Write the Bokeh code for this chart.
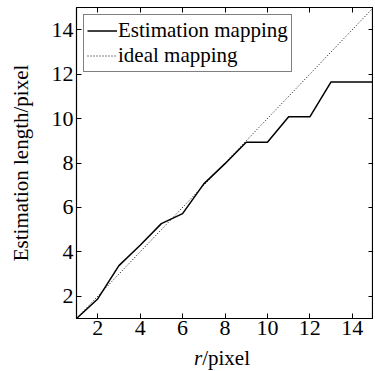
from bokeh.plotting import figure
from bokeh.layouts import column
from bokeh.models import (Range1d, LinearAxis, FixedTicker, Legend, LegendItem, Div,
                          CustomJSTickFormatter)
from bokeh.embed import file_html
from bokeh.resources import INLINE

# data
r_vals = [1, 2, 3, 4, 5, 6, 7, 8, 9, 10, 11, 12, 13, 14, 15]
est_vals = [1.0, 1.88, 3.38, 4.3, 5.27, 5.72, 7.06, 7.97, 8.93, 8.93, 10.08, 10.08, 11.65, 11.65, 11.65]
ideal_x = [1, 15]
ideal_y = [1, 15]
ticks = [2, 4, 6, 8, 10, 12, 14]

FONT = "Liberation Serif"

p = figure(width=373, height=342, output_backend="svg", toolbar_location=None,
           x_range=Range1d(1, 15), y_range=Range1d(1, 15),
           min_border_left=76, min_border_right=0, min_border_top=7, min_border_bottom=24)
p.background_fill_color = "white"
p.border_fill_color = "white"
p.outline_line_color = "black"
p.outline_line_width = 1.2
p.xgrid.visible = False
p.ygrid.visible = False

for ax in (p.xaxis[0], p.yaxis[0]):
    ax.ticker = FixedTicker(ticks=ticks)
    ax.major_tick_in = 5
    ax.major_tick_out = 0
    ax.minor_tick_in = 0
    ax.minor_tick_out = 0
    ax.major_tick_line_color = "black"
    ax.axis_line_color = "black"
    ax.major_label_text_font = FONT
    ax.major_label_text_font_size = "22px"
    ax.major_label_text_color = "black"

p.xaxis[0].major_label_standoff = 2
p.yaxis[0].major_label_standoff = 3
p.yaxis[0].axis_label = "Estimation length/pixel"
p.yaxis[0].axis_label_text_font = FONT
p.yaxis[0].axis_label_text_font_size = "21px"
p.yaxis[0].axis_label_text_font_style = "normal"
p.yaxis[0].axis_label_text_color = "black"
p.yaxis[0].axis_label_standoff = 16

for loc in ("above", "right"):
    ax = LinearAxis(ticker=FixedTicker(ticks=ticks), major_tick_in=5, major_tick_out=0,
                    minor_tick_in=0, minor_tick_out=0,
                    formatter=CustomJSTickFormatter(code="return ''"),
                    major_label_standoff=0, axis_line_color="black",
                    major_tick_line_color="black")
    p.add_layout(ax, loc)

est = p.line(r_vals, est_vals, line_color="black", line_width=1.5)
ideal = p.line(ideal_x, ideal_y, line_color="black", line_width=1, line_dash="1 2")

legend = Legend(items=[LegendItem(label="Estimation mapping", renderers=[est]),
                       LegendItem(label="ideal mapping", renderers=[ideal])],
                location="top_left", margin=7, padding=3, spacing=0,
                glyph_width=30, glyph_height=21, label_height=21, label_standoff=1,
                label_text_font=FONT, label_text_font_size="21px",
                label_text_color="black", border_line_color="black", border_line_width=1.2,
                background_fill_alpha=1)
p.add_layout(legend)

xlabel = Div(text="<span style='font-family:\"Liberation Serif\";font-size:21px;color:black;"
                  "margin-left:189px;white-space:nowrap'><i>r</i>/pixel</span>",
             width=373, height=24, styles={"line-height": "22px"})

layout = column(p, xlabel, spacing=0)
open("out.html", "w").write(file_html(layout, INLINE))
